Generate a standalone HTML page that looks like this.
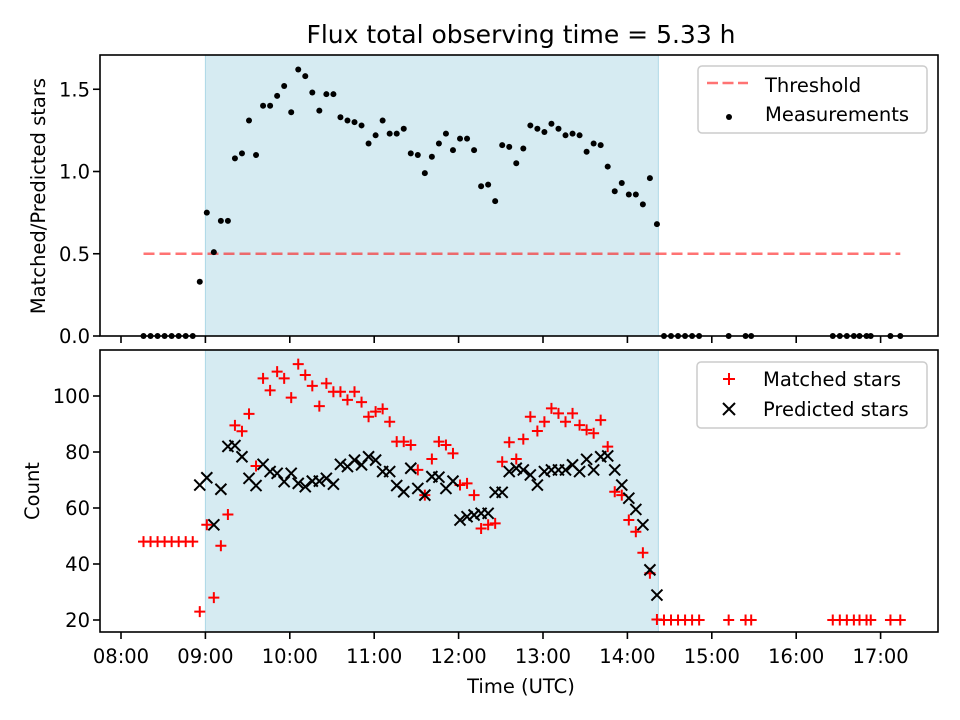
<!DOCTYPE html>
<html><head><meta charset="utf-8"><style>
body{margin:0;background:#fff;}
svg{display:block;font-family:"DejaVu Sans","Liberation Sans",sans-serif;}
</style></head><body>
<svg id="chart" width="960" height="720" viewBox="0 0 960 720"></svg>
<script>
// ---- data ----
const preTimes = ["08:16","08:21","08:26","08:31","08:36","08:41","08:46","08:51"];
const preRatio = [0,0,0,0,0,0,0,0];
const preMatched = [48,48,48,48,48,48,48,48];
const sessionStart = "08:56";
const ratio = [0.33,0.75,0.51,0.70,0.70,1.08,1.11,1.31,1.10,1.40,1.40,1.46,1.52,1.36,1.62,1.58,1.48,1.37,1.47,1.47,1.33,1.31,1.30,1.28,1.17,1.22,1.31,1.23,1.23,1.26,1.11,1.10,0.99,1.09,1.17,1.23,1.13,1.20,1.20,1.13,0.91,0.92,0.82,1.16,1.15,1.05,1.14,1.28,1.26,1.24,1.29,1.26,1.22,1.23,1.22,1.12,1.17,1.16,1.03,0.88,0.93,0.86,0.86,0.80,0.96,0.68];
const matched = [23,54,28,46.5,57.7,89.5,87.4,93.6,75,106.3,102,108.7,106.3,99.4,111.4,107.5,103.6,96.4,104.5,101.5,101.5,98.6,101.5,97.8,92.6,94.4,95.4,90.8,83.7,83.7,82.5,73.6,64.6,77.5,83.7,82.5,79.5,68.2,68.8,64.6,52.7,54,54.5,76.5,83.5,77.5,84.6,92.6,87.5,90.8,95.6,93.8,90.8,93.8,89.6,87.9,86.7,91.4,81.9,65.8,64.6,55.7,51.5,44,36.7,20.2];
const predicted = [68.2,70.8,54,66.7,82,82.3,78.3,70.6,68,75.6,73,72.4,69.4,72.4,68.8,67.6,69.6,69.6,70.6,68.5,75.6,74.8,77.1,75.4,78.3,77.1,73,73,68,65.8,74.2,67,64.6,71.2,71,67,69.6,55.7,56.9,57.5,58.1,58.1,65.6,65.6,73,74.2,73.6,71.8,68.2,73,73.6,73.6,73.6,75.4,73,77.4,73.6,78.3,78.6,73.6,68.2,63.5,59.5,54,37.9,28.9];
const postTimes = ["14:26","14:31","14:36","14:41","14:46","14:51","15:12","15:24","15:28","16:26","16:31","16:36","16:41","16:45","16:50","16:53","17:07","17:14"];
const postRatio = [0,0,0,0,0,0,0,0,0,0,0,0,0,0,0,0,0,0];
const postMatched = [20,20,20,20,20,20,20,20,20,20,20,20,20,20,20,20,20,20];
const threshold = 0.5;
const shadeStart = "09:00", shadeEnd = "14:22";
const xTickLabels = ["08:00","09:00","10:00","11:00","12:00","13:00","14:00","15:00","16:00","17:00"];
const topYTicks = [0.0,0.5,1.0,1.5];
const botYTicks = [20,40,60,80,100];

// ---- scales ----
const svg = document.getElementById('chart');
const NS = 'http://www.w3.org/2000/svg';
function mk(tag, attrs, parent){const e=document.createElementNS(NS,tag);for(const k in attrs)e.setAttribute(k,attrs[k]);(parent||svg).appendChild(e);return e;}
function toMin(s){const p=s.split(':');return +p[0]*60 + +p[1];}
const L=100,R=938;
const x = m => 121 + (m-480)*84.4/60;
const T0=55,T1=336, yTop = v => 336 - v*164.5;
const B0=350,B1=632, yBot = v => 620 - (v-20)*2.8;
const s0=toMin(sessionStart);
const sesTimes = ratio.map((_,i)=>s0+5*i);
const FS=19.5;

let e;
e=mk('rect',{x:x(toMin(shadeStart)),y:T0,width:x(toMin(shadeEnd))-x(toMin(shadeStart)),height:T1-T0,fill:'#add8e6','fill-opacity':0.5,stroke:'#add8e6','stroke-width':1});


e=mk('rect',{x:x(toMin(shadeStart)),y:B0,width:x(toMin(shadeEnd))-x(toMin(shadeStart)),height:B1-B0,fill:'#add8e6','fill-opacity':0.5,stroke:'#add8e6','stroke-width':1});



const allT = preTimes.map(toMin).concat(sesTimes, postTimes.map(toMin));
e=mk('line',{x1:x(Math.min(...allT)),x2:x(Math.max(...allT)),y1:yTop(threshold),y2:yTop(threshold),stroke:'#ff0000','stroke-opacity':0.55,'stroke-width':2.5,'stroke-dasharray':'11,5'});



const gM = mk('g',{});


const ratioT = preTimes.map(toMin).concat(sesTimes, postTimes.map(toMin));
const ratioV = preRatio.concat(ratio, postRatio);
ratioT.forEach((t,i)=>{const c=mk('circle',{cx:x(t),cy:yTop(ratioV[i]),r:3,fill:'#000'},gM);

});

const gR = mk('g',{stroke:'#ff0000','stroke-width':2});


const mV = preMatched.concat(matched, postMatched);
ratioT.forEach((t,i)=>{const cx=x(t),cy=yBot(mV[i]);
const p=mk('path',{d:`M${cx-5.5} ${cy}H${cx+5.5}M${cx} ${cy-5.5}V${cy+5.5}`},gR);

});

const gP = mk('g',{stroke:'#000','stroke-width':2});


sesTimes.forEach((t,i)=>{const cx=x(t),cy=yBot(predicted[i]);
const p=mk('path',{d:`M${cx-5.5} ${cy-5.5}L${cx+5.5} ${cy+5.5}M${cx-5.5} ${cy+5.5}L${cx+5.5} ${cy-5.5}`},gP);

});

[[T0,T1,'top-axes-frame'],[B0,B1,'bottom-axes-frame']].forEach(a=>{
const r=mk('rect',{x:L,y:a[0],width:R-L,height:a[1]-a[0],fill:'none',stroke:'#000','stroke-width':1.6});

});

xTickLabels.forEach(lbl=>{const xx=x(toMin(lbl));
mk('line',{x1:xx,x2:xx,y1:T1,y2:T1+7,stroke:'#000','stroke-width':1.6});
mk('line',{x1:xx,x2:xx,y1:B1,y2:B1+7,stroke:'#000','stroke-width':1.6});
const t=mk('text',{x:xx,y:663,'font-size':FS,'text-anchor':'middle'});t.textContent=lbl;

});
topYTicks.forEach(v=>{const yy=yTop(v);
mk('line',{x1:L-7,x2:L,y1:yy,y2:yy,stroke:'#000','stroke-width':1.6});
const t=mk('text',{x:L-10,y:yy+7,'font-size':FS,'text-anchor':'end'});t.textContent=v.toFixed(1);

});
botYTicks.forEach(v=>{const yy=yBot(v);
mk('line',{x1:L-7,x2:L,y1:yy,y2:yy,stroke:'#000','stroke-width':1.6});
const t=mk('text',{x:L-10,y:yy+7,'font-size':FS,'text-anchor':'end'});t.textContent=v;

});

e=mk('text',{x:521,y:43,'font-size':25,'text-anchor':'middle'});e.textContent='Flux total observing time = 5.33 h';


e=mk('text',{x:521,y:693,'font-size':FS,'text-anchor':'middle'});e.textContent='Time (UTC)';


e=mk('text',{x:0,y:0,'font-size':FS,'text-anchor':'middle',transform:'translate(45,196) rotate(-90)'});e.textContent='Matched/Predicted stars';


e=mk('text',{x:0,y:0,'font-size':FS,'text-anchor':'middle',transform:'translate(39,491) rotate(-90)'});e.textContent='Count';



const lg1=mk('g',{});


mk('rect',{x:698,y:66,width:229,height:67,rx:4,fill:'#fff','fill-opacity':0.8,stroke:'#ccc','stroke-width':1.5},lg1);
mk('line',{x1:707,x2:748,y1:83,y2:83,stroke:'#ff0000','stroke-opacity':0.55,'stroke-width':2.5,'stroke-dasharray':'11,4.5'},lg1);
e=mk('text',{x:765,y:92,'font-size':FS},lg1);e.textContent='Threshold';


mk('circle',{cx:729,cy:117,r:3,fill:'#000'},lg1);
e=mk('text',{x:765,y:121,'font-size':FS},lg1);e.textContent='Measurements';



const lg2=mk('g',{});


mk('rect',{x:697,y:362,width:230,height:66,rx:4,fill:'#fff','fill-opacity':0.8,stroke:'#ccc','stroke-width':1.5},lg2);
mk('path',{d:'M723 379H735M729 373V385',stroke:'#ff0000','stroke-width':2},lg2);
e=mk('text',{x:763,y:386,'font-size':FS},lg2);e.textContent='Matched stars';


mk('path',{d:'M723 403L735 415M723 415L735 403',stroke:'#000','stroke-width':2},lg2);
e=mk('text',{x:763,y:416,'font-size':FS},lg2);e.textContent='Predicted stars';


</script>
</body></html>
